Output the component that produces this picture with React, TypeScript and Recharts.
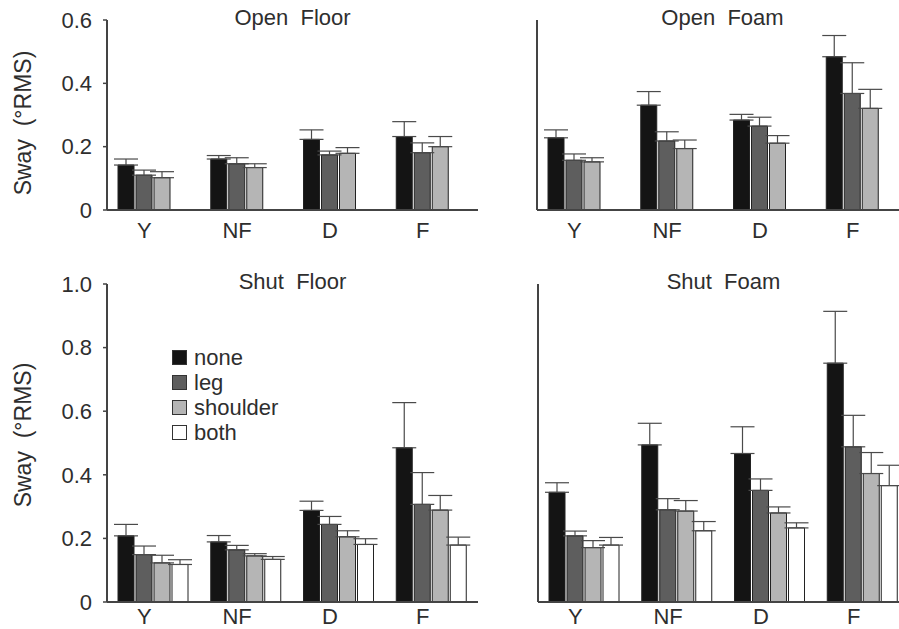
import { BarChart, Bar, XAxis, YAxis, ErrorBar, Legend } from "recharts";

const CATEGORIES = ["Y", "NF", "D", "F"];
const SERIES = ["none", "leg", "shoulder", "both"];
const COLORS = ["#141414", "#5e5e5e", "#b5b5b5", "#ffffff"];

// Open, floor
const openFloorNone = [0.142, 0.161, 0.223, 0.232];
const openFloorNoneErr = [0.019, 0.011, 0.03, 0.047];
const openFloorLeg = [0.11, 0.146, 0.174, 0.181];
const openFloorLegErr = [0.016, 0.019, 0.012, 0.031];
const openFloorShoulder = [0.102, 0.134, 0.179, 0.2];
const openFloorShoulderErr = [0.019, 0.012, 0.018, 0.032];

// Open, foam
const openFoamNone = [0.228, 0.331, 0.284, 0.484];
const openFoamNoneErr = [0.025, 0.043, 0.018, 0.067];
const openFoamLeg = [0.157, 0.218, 0.265, 0.368];
const openFoamLegErr = [0.02, 0.029, 0.028, 0.097];
const openFoamShoulder = [0.152, 0.194, 0.211, 0.321];
const openFoamShoulderErr = [0.013, 0.027, 0.024, 0.06];

// Shut, floor
const shutFloorNone = [0.208, 0.189, 0.288, 0.485];
const shutFloorNoneErr = [0.036, 0.02, 0.029, 0.142];
const shutFloorLeg = [0.149, 0.164, 0.244, 0.307];
const shutFloorLegErr = [0.027, 0.014, 0.025, 0.1];
const shutFloorShoulder = [0.123, 0.145, 0.205, 0.289];
const shutFloorShoulderErr = [0.024, 0.007, 0.019, 0.046];
const shutFloorBoth = [0.118, 0.134, 0.181, 0.179];
const shutFloorBothErr = [0.015, 0.009, 0.018, 0.025];

// Shut, foam
const shutFoamNone = [0.345, 0.494, 0.467, 0.751];
const shutFoamNoneErr = [0.03, 0.068, 0.084, 0.163];
const shutFoamLeg = [0.208, 0.29, 0.351, 0.488];
const shutFoamLegErr = [0.015, 0.035, 0.036, 0.099];
const shutFoamShoulder = [0.171, 0.286, 0.28, 0.404];
const shutFoamShoulderErr = [0.022, 0.033, 0.019, 0.066];
const shutFoamBoth = [0.179, 0.224, 0.233, 0.366];
const shutFoamBothErr = [0.024, 0.029, 0.016, 0.064];

const TOP_TICKS = [0, 0.2, 0.4, 0.6];
const BOTTOM_TICKS = [0, 0.2, 0.4, 0.6, 0.8, 1.0];

const FONT = "'Liberation Sans', Arial, sans-serif";
const TEXT = "#2e2e2e";
const AXIS = "#444";

function buildRows(means: (number[] | null)[], errs: (number[] | null)[]) {
  return CATEGORIES.map((cat, i) => {
    const row: any = { cat };
    SERIES.forEach((s, k) => {
      if (means[k]) {
        row[s] = means[k]![i];
        row[s + "Err"] = [0, errs[k]![i]];
      }
    });
    return row;
  });
}

const makeXTick = (gap: number) => ({ x, y, payload }: any) => (
  <text x={x - 9} y={y + gap} textAnchor="middle" dominantBaseline="central"
    style={{ fontFamily: FONT, fontSize: 22, fill: TEXT }}>
    {payload.value}
  </text>
);

const LegendBox = ({ payload }: any) => {
  const items = [...(payload || [])].sort((a: any, b: any) => SERIES.indexOf(a.value) - SERIES.indexOf(b.value));
  return (
    <div style={{ fontFamily: FONT, fontSize: 22, color: TEXT, lineHeight: "25px" }}>
      {items.map((e: any) => (
        <div key={e.value} style={{ display: "flex", alignItems: "center", height: 25 }}>
          <span style={{ width: 13, height: 13, background: e.color, border: "1px solid #333", marginRight: 7, display: "inline-block" }} />
          {e.value}
        </div>
      ))}
    </div>
  );
};

interface PanelProps {
  title: string;
  means: (number[] | null)[];
  errs: (number[] | null)[];
  ticks: number[];
  left: number;
  top: number;
  height: number;
  marginTop: number;
  xHeight: number;
  xGap: number;
  showLabels: boolean;
  labelY: number;
  legend?: boolean;
}

function Panel(p: PanelProps) {
  const data = buildRows(p.means, p.errs);
  const width = 480;
  const XTick = makeXTick(p.xGap);
  return (
    <div style={{ position: "absolute", left: p.left, top: p.top, width, height: p.height }}>
      <BarChart width={width} height={p.height} data={data} barGap={2}
        margin={{ top: p.marginTop, right: 2, bottom: 0, left: 0 }}>
        <XAxis dataKey="cat" height={p.xHeight} tickLine={false} tickSize={0} tickMargin={0}
          axisLine={{ stroke: AXIS, strokeWidth: 2 }} tick={<XTick />} interval={0} />
        <YAxis width={107} domain={[0, p.ticks[p.ticks.length - 1]]} ticks={p.ticks} interval={0}
          tickSize={4} tickMargin={11}
          axisLine={{ stroke: AXIS, strokeWidth: 2 }}
          tickLine={{ stroke: AXIS, strokeWidth: 1.5 }}
          tick={p.showLabels ? { fontFamily: FONT, fontSize: 22, fill: TEXT } : false}
          tickFormatter={(v: number) => (v === 0 ? "0" : v.toFixed(1))}
          label={p.showLabels ? {
            content: () => (
              <text x={23} y={p.labelY} textAnchor="middle" dominantBaseline="central"
                transform={`rotate(-90, 23, ${p.labelY})`}
                style={{ fontFamily: FONT, fontSize: 23, fill: TEXT, whiteSpace: "pre" }}>
                {"Sway  (°RMS)"}
              </text>
            ),
          } : undefined} />
        {SERIES.map((s, k) => (
          <Bar key={s} dataKey={s} name={s} fill={COLORS[k]} stroke="#222" strokeWidth={1}
            barSize={16} isAnimationActive={false}>
            {p.means[k] ? (
              <ErrorBar dataKey={s + "Err"} direction="y" width={12} stroke="#4a4a4a" strokeWidth={1.2} />
            ) : null}
          </Bar>
        ))}
        {p.legend ? (
          <Legend layout="vertical" align="center" verticalAlign="middle"
            wrapperStyle={{ left: 172, top: 85, width: 160, height: 100 }}
            content={<LegendBox />} />
        ) : null}
      </BarChart>
      <div style={{ position: "absolute", left: 107, top: p.marginTop - 14, width: 371, textAlign: "center",
        fontFamily: FONT, fontSize: 22, color: TEXT, whiteSpace: "pre", lineHeight: "24px" }}>
        {p.title}
      </div>
    </div>
  );
}

export default function App() {
  return (
    <div style={{ position: "absolute", left: 0, top: 0, width: 899, height: 629, overflow: "hidden", background: "#fff" }}>
      <Panel title="Open  Floor" left={0} top={0} height={250} marginTop={20} xHeight={40} xGap={20}
        ticks={TOP_TICKS} showLabels labelY={123}
        means={[openFloorNone, openFloorLeg, openFloorShoulder, null]}
        errs={[openFloorNoneErr, openFloorLegErr, openFloorShoulderErr, null]} />
      <Panel title="Open  Foam" left={430} top={0} height={250} marginTop={20} xHeight={40} xGap={20}
        ticks={TOP_TICKS} showLabels={false} labelY={0}
        means={[openFoamNone, openFoamLeg, openFoamShoulder, null]}
        errs={[openFoamNoneErr, openFoamLegErr, openFoamShoulderErr, null]} />
      <Panel title="Shut  Floor" left={0} top={260} height={369} marginTop={24} xHeight={27} xGap={14}
        ticks={BOTTOM_TICKS} showLabels labelY={175} legend
        means={[shutFloorNone, shutFloorLeg, shutFloorShoulder, shutFloorBoth]}
        errs={[shutFloorNoneErr, shutFloorLegErr, shutFloorShoulderErr, shutFloorBothErr]} />
      <Panel title="Shut  Foam" left={431} top={260} height={369} marginTop={24} xHeight={27} xGap={14}
        ticks={BOTTOM_TICKS} showLabels={false} labelY={0}
        means={[shutFoamNone, shutFoamLeg, shutFoamShoulder, shutFoamBoth]}
        errs={[shutFoamNoneErr, shutFoamLegErr, shutFoamShoulderErr, shutFoamBothErr]} />
    </div>
  );
}
